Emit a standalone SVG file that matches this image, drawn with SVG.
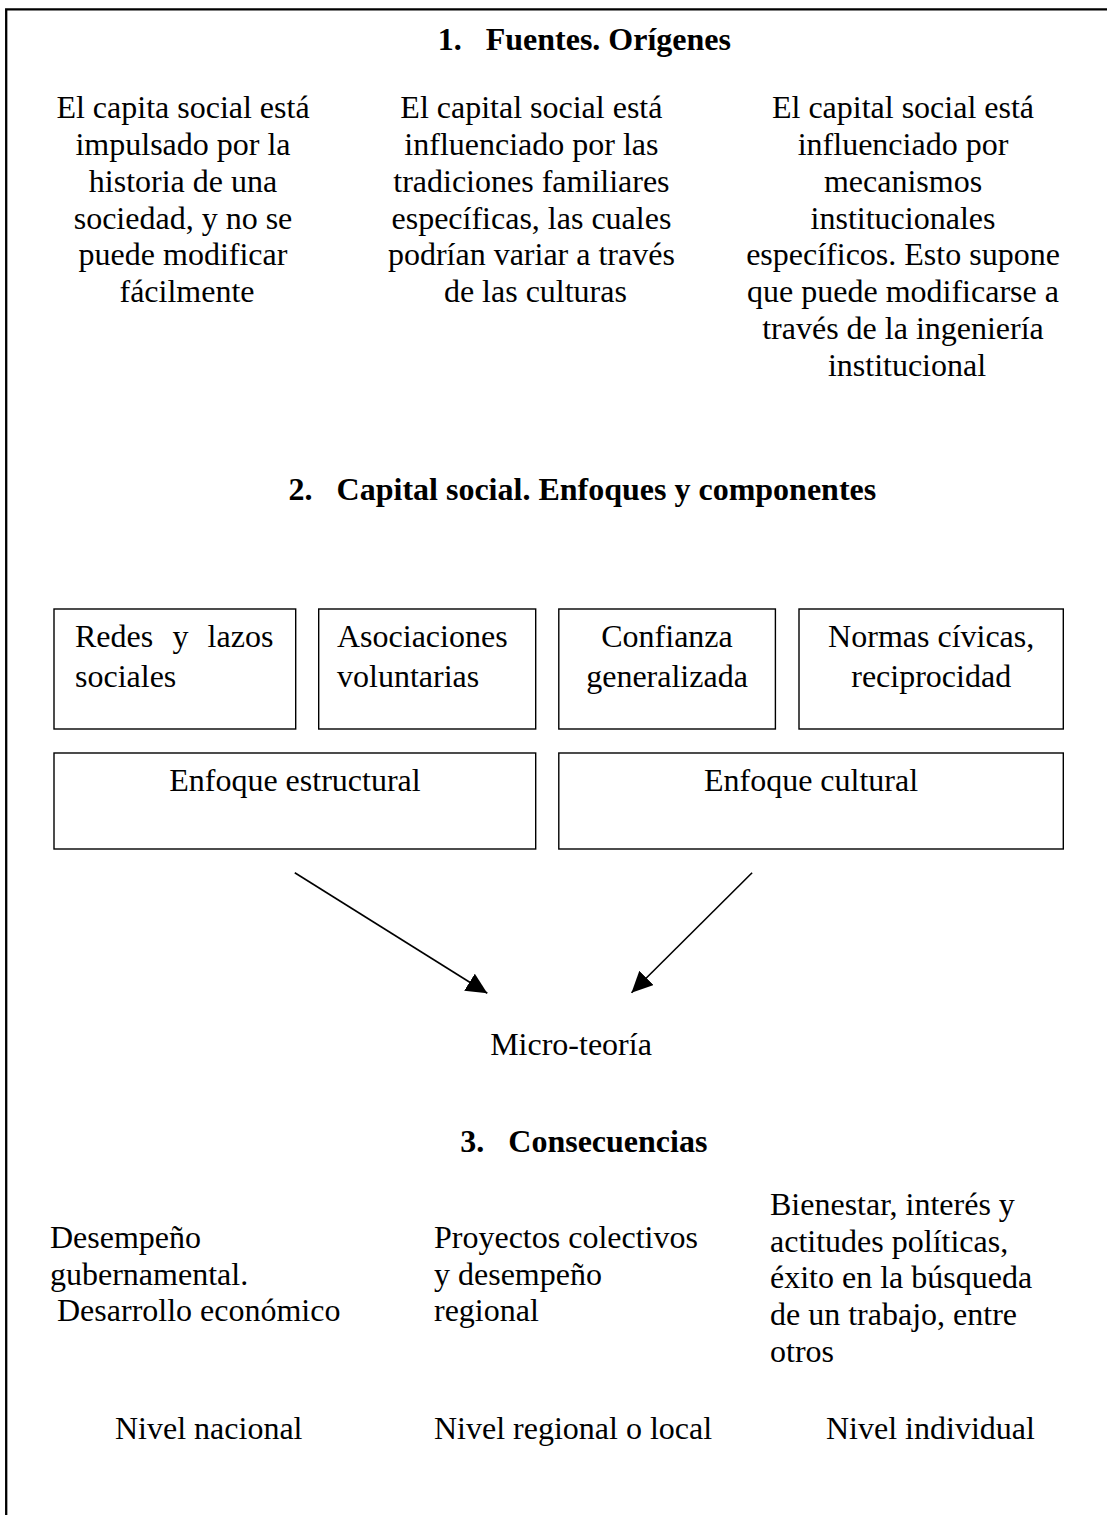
<svg xmlns="http://www.w3.org/2000/svg" width="1107" height="1515" viewBox="0 0 1107 1515">
<style>
text{font-family:"Liberation Serif","Times New Roman",serif;font-size:32px;fill:#000}
.b{font-weight:bold}
.c{text-anchor:middle}
.box{fill:#fff;stroke:#000;stroke-width:1.4}
.frame{fill:none;stroke:#000;stroke-width:2.3}
.conn{fill:none;stroke:#000;stroke-width:1.6}
</style>
<defs>
<marker id="ah" markerUnits="userSpaceOnUse" markerWidth="21" markerHeight="20" refX="21" refY="10" orient="auto">
<path d="M0,0 L21,10 L0,20 Z" fill="#000"/>
</marker>
</defs>
<rect width="1107" height="1515" fill="#fff"/>
<path class="frame" d="M6.2,1515 L6.2,9.3 L1107,9.3"/>

<g id="title1"><text class="b" y="50"><tspan x="437.7">1.</tspan><tspan x="485.7">Fuentes. Orígenes</tspan></text></g>

<g id="origen1"><text class="c">
<tspan x="187" y="118.3">El capita social está</tspan>
<tspan x="187" y="155">impulsado por la</tspan>
<tspan x="187" y="191.8">historia de una</tspan>
<tspan x="187" y="228.6">sociedad, y no se</tspan>
<tspan x="187" y="265.4">puede modificar</tspan>
<tspan x="187" y="302.2">fácilmente</tspan>
</text></g>

<g id="origen2"><text class="c">
<tspan x="535.4" y="118.3">El capital social está</tspan>
<tspan x="535.4" y="155">influenciado por las</tspan>
<tspan x="535.4" y="191.8">tradiciones familiares</tspan>
<tspan x="535.4" y="228.6">específicas, las cuales</tspan>
<tspan x="535.4" y="265.4">podrían variar a través</tspan>
<tspan x="535.4" y="302.2">de las culturas</tspan>
</text></g>

<g id="origen3"><text class="c">
<tspan x="907" y="118.3">El capital social está</tspan>
<tspan x="907" y="155">influenciado por</tspan>
<tspan x="907" y="191.8">mecanismos</tspan>
<tspan x="907" y="228.6">institucionales</tspan>
<tspan x="907" y="265.4">específicos. Esto supone</tspan>
<tspan x="907" y="302.2">que puede modificarse a</tspan>
<tspan x="907" y="339">través de la ingeniería</tspan>
<tspan x="907" y="375.8">institucional</tspan>
</text></g>

<g id="title2"><text class="b" y="500"><tspan x="288.6">2.</tspan><tspan x="336.6">Capital social. Enfoques y componentes</tspan></text></g>

<g id="redes">
<rect class="box" x="54" y="609" width="241.7" height="120"/>
<text word-spacing="11.2"><tspan x="75" y="647">Redes y lazos</tspan></text>
<text><tspan x="75" y="687.3">sociales</tspan></text>
</g>
<g id="asociaciones">
<rect class="box" x="318.7" y="609" width="217" height="120"/>
<text><tspan x="337" y="647">Asociaciones</tspan><tspan x="337" y="687.3">voluntarias</tspan></text>
</g>
<g id="confianza">
<rect class="box" x="558.8" y="609" width="216.6" height="120"/>
<text class="c"><tspan x="667" y="647">Confianza</tspan><tspan x="667" y="687.3">generalizada</tspan></text>
</g>
<g id="normas">
<rect class="box" x="799" y="609" width="264.3" height="120"/>
<text class="c"><tspan x="931.2" y="647">Normas cívicas,</tspan><tspan x="931.2" y="687.3">reciprocidad</tspan></text>
</g>
<g id="estructural">
<rect class="box" x="54" y="753" width="481.7" height="96"/>
<text class="c" x="294.9" y="791">Enfoque estructural</text>
</g>
<g id="cultural">
<rect class="box" x="558.8" y="753" width="504.5" height="96"/>
<text class="c" x="811" y="791">Enfoque cultural</text>
</g>

<g id="connectors">
<line class="conn" x1="294.8" y1="872.7" x2="487.3" y2="993.3" marker-end="url(#ah)"/>
<line class="conn" x1="752.1" y1="872.7" x2="631.5" y2="992.7" marker-end="url(#ah)"/>
</g>

<g id="microteoria"><text class="c" x="571" y="1055">Micro-teoría</text></g>

<g id="title3"><text class="b" y="1152"><tspan x="460.3">3.</tspan><tspan x="508.3">Consecuencias</tspan></text></g>

<g id="consec1"><text>
<tspan x="50" y="1248">Desempeño</tspan>
<tspan x="50" y="1284.7">gubernamental.</tspan>
<tspan x="57" y="1321.4">Desarrollo económico</tspan>
</text></g>
<g id="consec2"><text>
<tspan x="434" y="1248">Proyectos colectivos</tspan>
<tspan x="434" y="1284.7">y desempeño</tspan>
<tspan x="434" y="1321.4">regional</tspan>
</text></g>
<g id="consec3"><text>
<tspan x="770" y="1215">Bienestar, interés y</tspan>
<tspan x="770" y="1251.7">actitudes políticas,</tspan>
<tspan x="770" y="1288.4">éxito en la búsqueda</tspan>
<tspan x="770" y="1325.1">de un trabajo, entre</tspan>
<tspan x="770" y="1361.8">otros</tspan>
</text></g>

<g id="niveles">
<text x="115" y="1439">Nivel nacional</text>
<text x="434" y="1439">Nivel regional o local</text>
<text x="826" y="1439">Nivel individual</text>
</g>
</svg>
